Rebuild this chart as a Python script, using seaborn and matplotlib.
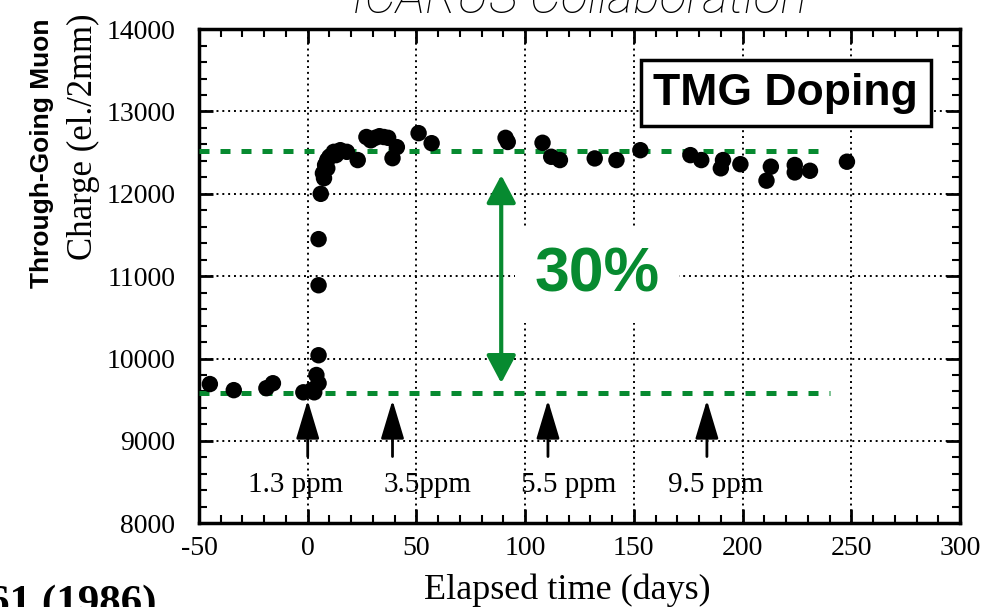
import matplotlib
matplotlib.use("Agg")
import matplotlib.pyplot as plt
import matplotlib.ticker as mticker
import pandas as pd
import seaborn as sns

days = [-45, -34, -19, -16, -2, 2, 3, 4, 5, 5, 5, 5, 6, 7, 7.5, 8, 9, 9, 10, 12, 13,
        15, 18, 23, 27, 29, 31, 33, 35, 37, 39, 41, 51, 57,
        91, 92, 108, 112, 116, 132, 142, 153, 176, 181, 190, 191, 199,
        211, 213, 224, 224, 231, 248]
charge = [9690, 9616, 9640, 9700, 9590, 9620, 9590, 9800, 9700, 10040, 10890, 11450,
          12000, 12250, 12190, 12350, 12310, 12410, 12450, 12510, 12470,
          12530, 12510, 12410, 12690, 12650, 12680, 12700, 12690, 12680, 12433, 12567,
          12737, 12615,
          12680, 12630, 12620, 12450, 12410, 12430, 12410, 12530, 12470, 12410, 12310,
          12410, 12360, 12160, 12330, 12350, 12260, 12280, 12390]

# charge levels before / after doping, and the end day of each level line
levels = [9580, 12520]
level_ends = [240, 238]
increase_label = "30%"

# doping steps
doping_days = [0, 39, 110.5, 183.6]
doping_labels = ["1.3 ppm", "3.5ppm", "5.5 ppm", "9.5 ppm"]

df = pd.DataFrame({"days": days, "charge": charge})

sns.set_theme(style="ticks")
plt.rcParams["font.family"] = ["Liberation Serif", "DejaVu Serif"]
plt.rcParams["axes.linewidth"] = 2.5
plt.rcParams["axes.unicode_minus"] = False
plt.rcParams["text.color"] = "black"
plt.rcParams["xtick.color"] = "black"
plt.rcParams["ytick.color"] = "black"
plt.rcParams["axes.edgecolor"] = "black"

GREEN = "#078a30"

fig = plt.figure(figsize=(9.9, 6.07), dpi=100)
ax = fig.add_axes([0.201, 0.138, 0.7687, 0.814])

sns.scatterplot(data=df, x="days", y="charge", ax=ax, color="black",
                s=140, edgecolor="none", zorder=4)

# level lines
for lev, end in zip(levels, level_ends):
    ax.hlines(lev, -50, end, colors=GREEN, lw=3.6,
              linestyles=(0, (2.0, 2.2)), zorder=3)

# 30% double arrow
ax.annotate("", xy=(89, 12228), xytext=(89, 9701),
            arrowprops=dict(arrowstyle="<|-|>,head_length=0.85,head_width=0.45",
                            mutation_scale=20, color=GREEN, lw=3,
                            shrinkA=0, shrinkB=0), zorder=5)
ax.text(133, 11020, increase_label, color=GREEN, fontsize=45, fontweight="bold",
        family="Liberation Sans", ha="center", va="center", zorder=5,
        bbox=dict(facecolor="white", edgecolor="none", pad=14))

# doping arrows + labels
label_dx = [-5.5, 16, 9.5, 4]
for d, lab, dx in zip(doping_days, doping_labels, label_dx):
    ax.annotate("", xy=(d, 9495), xytext=(d, 8810),
                arrowprops=dict(arrowstyle="-|>,head_length=1.2,head_width=0.36",
                                mutation_scale=20, color="black", lw=2,
                                shrinkA=0, shrinkB=0), zorder=5)
    ax.text(d + dx, 8470, lab, fontsize=21, ha="center", va="center", zorder=5)

ax.text(0.771, 0.87, "TMG Doping", transform=ax.transAxes, fontsize=32,
        fontweight="bold", family="Liberation Sans", ha="center", va="center",
        zorder=6,
        bbox=dict(facecolor="white", edgecolor="black", lw=2.5, pad=9))

ax.set_xlim(-50, 300)
ax.set_ylim(8000, 14000)
ax.xaxis.set_major_locator(mticker.MultipleLocator(50))
ax.xaxis.set_minor_locator(mticker.MultipleLocator(10))
ax.yaxis.set_major_locator(mticker.MultipleLocator(1000))
ax.yaxis.set_minor_locator(mticker.MultipleLocator(200))
ax.grid(True, which="major", color="black", linestyle=(0, (1, 2)), lw=1.4)
ax.tick_params(which="both", direction="in", top=True, right=True, colors="black")
ax.tick_params(which="major", length=10, width=2, labelsize=20)
ax.tick_params(which="minor", length=6, width=1.5)
ax.tick_params(axis="y", which="major", pad=17)
ax.tick_params(axis="x", which="major", pad=9)
ax.set_xlabel("")
ax.set_ylabel("")

fig.text(0.573, 0.028, "Elapsed time (days)", fontsize=26, ha="center", va="center")
fig.text(0.042, 0.748, "Through-Going Muon", rotation=90, fontsize=19,
         fontweight="bold", family="Liberation Sans", ha="center", va="center")
fig.text(0.084, 0.774, "Charge (el./2mm)", rotation=90, fontsize=25,
         ha="center", va="center")
fig.text(0.585, 1 - 13 / 607, "ICARUS Collaboration", fontsize=36,
         family="Roboto", fontweight="light", style="italic",
         ha="center", va="baseline")
fig.text(157 / 990, -0.012, "61 (1986)", fontsize=31, fontweight="bold",
         ha="right", va="baseline")

fig.savefig("out.png", dpi=100)
plt.close(fig)
